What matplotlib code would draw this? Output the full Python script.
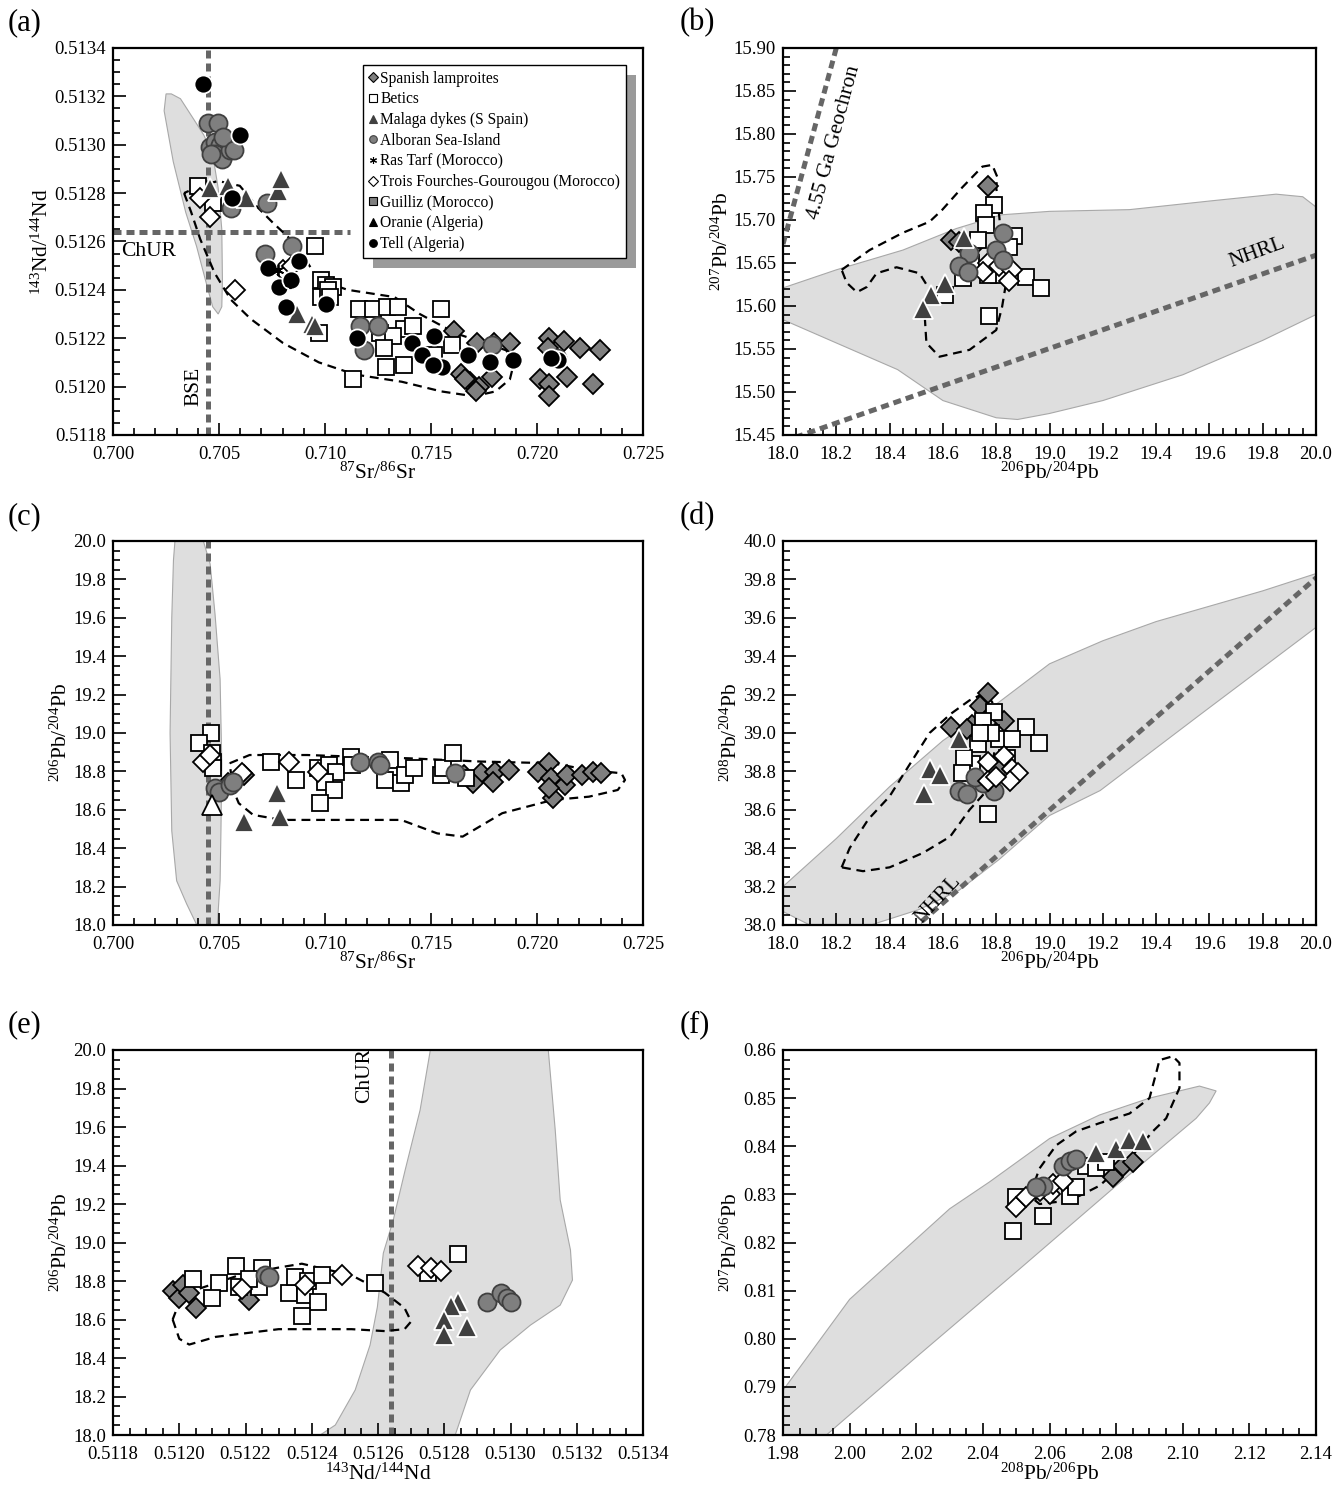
import matplotlib
matplotlib.use("Agg")
import matplotlib.pyplot as plt
from matplotlib.lines import Line2D
from matplotlib.patches import Rectangle
from matplotlib.ticker import MultipleLocator, StrMethodFormatter
import numpy as np

plt.rcParams['font.family'] = ['Liberation Serif', 'DejaVu Serif']
plt.rcParams['mathtext.fontset'] = 'custom'
plt.rcParams['mathtext.rm'] = 'Liberation Serif'
plt.rcParams['mathtext.default'] = 'regular'

# ---------------- panel (a): 87Sr/86Sr vs 143Nd/144Nd ----------------
a_tell_x = [0.70423, 0.70601, 0.70559, 0.70730, 0.70781, 0.70841, 0.70875, 0.70815, 0.71005, 0.71150,
            0.71410, 0.71456, 0.71515, 0.71552, 0.71510, 0.71676, 0.71778, 0.71889, 0.72101, 0.72067]
a_tell_y = [0.51325, 0.51304, 0.51278, 0.51249, 0.51241, 0.51244, 0.51252, 0.51233, 0.51234, 0.51220,
            0.51218, 0.51213, 0.51221, 0.51208, 0.51209, 0.51213, 0.51210, 0.51211, 0.51211, 0.51212]
a_alb_x = [0.70448, 0.70496, 0.70459, 0.70479, 0.70504, 0.70479, 0.70513, 0.70550, 0.70555, 0.70725,
           0.70844, 0.70717, 0.71167, 0.71252, 0.71184, 0.71787, 0.72092, 0.70462, 0.70521, 0.70572]
a_alb_y = [0.51309, 0.51309, 0.51299, 0.51301, 0.51300, 0.51296, 0.51294, 0.51298, 0.51274, 0.51276,
           0.51258, 0.51255, 0.51225, 0.51225, 0.51215, 0.51217, 0.51212, 0.51296, 0.51303, 0.51298]
a_mal_x = [0.70459, 0.70544, 0.70628, 0.70776, 0.70793, 0.70870, 0.70938, 0.70951]
a_mal_y = [0.51282, 0.51283, 0.51278, 0.51281, 0.51286, 0.51230, 0.51226, 0.51225]
a_tro_x = [0.70411, 0.70459, 0.70577, 0.70802, 0.70844]
a_tro_y = [0.51278, 0.51270, 0.51240, 0.51248, 0.51250]
a_ras_x = [0.70776, 0.70835]
a_ras_y = [0.51248, 0.51243]
a_bet_x = [0.70403, 0.70470, 0.70951, 0.70980, 0.71005, 0.71039, 0.70980, 0.70971, 0.71158, 0.71226,
           0.71294, 0.71345, 0.71371, 0.71549, 0.71413, 0.71600, 0.71286, 0.71371, 0.71133, 0.71014,
           0.71022, 0.71260, 0.71320, 0.71277, 0.71515]
a_bet_y = [0.51283, 0.51276, 0.51258, 0.51244, 0.51242, 0.51241, 0.51237, 0.51222, 0.51232, 0.51232,
           0.51233, 0.51233, 0.51224, 0.51232, 0.51225, 0.51217, 0.51208, 0.51209, 0.51203, 0.51240,
           0.51237, 0.51222, 0.51221, 0.51216, 0.51213]
a_lam_x = [0.71608, 0.71642, 0.71685, 0.71719, 0.71727, 0.71787, 0.71795, 0.71872, 0.72058, 0.72126,
           0.72203, 0.72296, 0.72050, 0.72016, 0.72058, 0.72058, 0.72143, 0.72262, 0.71710, 0.71659]
a_lam_y = [0.51223, 0.51205, 0.51202, 0.51218, 0.51200, 0.51204, 0.51218, 0.51218, 0.51220, 0.51219,
           0.51216, 0.51215, 0.51216, 0.51203, 0.51201, 0.51196, 0.51204, 0.51201, 0.51198, 0.51203]
a_field_x = [0.70250, 0.70275, 0.70318, 0.70377, 0.70428, 0.70470, 0.70496, 0.70513, 0.70516, 0.70513,
             0.70496, 0.70470, 0.70436, 0.70394, 0.70343, 0.70284, 0.70241]
a_field_y = [0.51321, 0.51321, 0.51319, 0.51311, 0.51304, 0.51296, 0.51282, 0.51265, 0.51244, 0.51233,
             0.51230, 0.51233, 0.51244, 0.51258, 0.51272, 0.51293, 0.51314]
a_env_x = [0.70335, 0.70369, 0.70411, 0.70479, 0.70555, 0.70649, 0.70802, 0.70971, 0.71141, 0.71362,
           0.71549, 0.71702, 0.71804, 0.71872, 0.71889, 0.71855, 0.71753, 0.71617, 0.71447, 0.71328,
           0.71107, 0.70971, 0.70904, 0.70836, 0.70751, 0.70683, 0.70598, 0.70496, 0.70411, 0.70360]
a_env_y = [0.51280, 0.51272, 0.51261, 0.51247, 0.51236, 0.51228, 0.51218, 0.51210, 0.51205, 0.51202,
           0.51198, 0.51196, 0.51198, 0.51203, 0.51209, 0.51215, 0.51218, 0.51222, 0.51230, 0.51237,
           0.51240, 0.51244, 0.51253, 0.51261, 0.51268, 0.51274, 0.51283, 0.51285, 0.51283, 0.51281]
bse_sr = 0.70448
chur_nd = 0.51264
chur_sr_end = 0.7112

# ---------------- panel (b): 206Pb/204Pb vs 207Pb/204Pb ----------------
b_lam_x = [18.768, 18.631, 18.720, 18.660]
b_lam_y = [15.739, 15.677, 15.671, 15.674]
b_mal_x = [18.680, 18.606, 18.556, 18.525]
b_mal_y = [15.679, 15.626, 15.613, 15.597]
b_bet_x = [18.793, 18.755, 18.761, 18.730, 18.867, 18.849, 18.705, 18.811, 18.911, 18.967,
           18.606, 18.774, 18.674, 18.768]
b_bet_y = [15.717, 15.708, 15.694, 15.677, 15.681, 15.669, 15.650, 15.636, 15.634, 15.621,
           15.613, 15.588, 15.632, 15.636]
b_alb_x = [18.824, 18.799, 18.699, 18.662, 18.693, 18.824]
b_alb_y = [15.685, 15.665, 15.661, 15.646, 15.640, 15.653]
b_tro_x = [18.768, 18.811, 18.861, 18.849, 18.749]
b_tro_y = [15.650, 15.646, 15.642, 15.629, 15.639]
b_field_x = [18.0, 18.2, 18.45, 18.65, 18.82, 19.0, 19.3, 19.6, 19.85, 19.95, 20.0, 20.0, 19.8, 19.5,
             19.2, 19.0, 18.88, 18.8, 18.6, 18.43, 18.2, 18.0]
b_field_y = [15.621, 15.642, 15.665, 15.69, 15.706, 15.71, 15.712, 15.722, 15.73, 15.727, 15.715,
             15.59, 15.56, 15.52, 15.49, 15.475, 15.468, 15.47, 15.49, 15.526, 15.557, 15.584]
b_env_x = [18.22, 18.325, 18.449, 18.55, 18.598, 18.673, 18.748, 18.785, 18.804, 18.80, 18.837,
           18.822, 18.80, 18.70, 18.587, 18.538, 18.531, 18.55, 18.512, 18.426, 18.351, 18.314,
           18.277, 18.239]
b_env_y = [15.642, 15.665, 15.685, 15.698, 15.712, 15.738, 15.762, 15.764, 15.75, 15.738, 15.627,
           15.599, 15.572, 15.549, 15.541, 15.557, 15.592, 15.619, 15.638, 15.645, 15.638, 15.622,
           15.616, 15.627]
geochron_x = [18.0, 18.2]
geochron_y = [15.672, 15.90]

# ---------------- panel (c): 87Sr/86Sr vs 206Pb/204Pb ----------------
c_lam_x = [0.71734, 0.71802, 0.71870, 0.71700, 0.71793, 0.72006, 0.72057, 0.72066, 0.72134, 0.72074,
           0.72142, 0.72211, 0.72262, 0.72304, 0.72057, 0.71657, 0.70618, 0.70542]
c_lam_y = [18.790, 18.799, 18.807, 18.738, 18.747, 18.799, 18.842, 18.764, 18.729, 18.660,
           18.781, 18.781, 18.799, 18.790, 18.712, 18.781, 18.781, 18.738]
c_bet_x = [0.70460, 0.70405, 0.70465, 0.70473, 0.70473, 0.70746, 0.70865, 0.70967, 0.71018, 0.71053,
           0.71001, 0.71044, 0.70976, 0.71121, 0.71129, 0.71308, 0.71282, 0.71359, 0.71376, 0.71419,
           0.71546, 0.71555, 0.71606, 0.71666]
c_bet_y = [19.000, 18.946, 18.894, 18.851, 18.816, 18.851, 18.755, 18.816, 18.833, 18.799,
           18.747, 18.703, 18.634, 18.877, 18.833, 18.859, 18.755, 18.738, 18.781, 18.816,
           18.781, 18.816, 18.894, 18.764]
c_alb_x = [0.70482, 0.70499, 0.70550, 0.70567, 0.71163, 0.71248, 0.71257, 0.71614]
c_alb_y = [18.712, 18.695, 18.729, 18.747, 18.851, 18.851, 18.833, 18.790]
c_tro_x = [0.70422, 0.70610, 0.70831, 0.70967, 0.70456]
c_tro_y = [18.851, 18.790, 18.851, 18.799, 18.885]
c_ora_x = [0.70465]
c_ora_y = [18.625]
c_mal_x = [0.70618, 0.70789, 0.70772]
c_mal_y = [18.538, 18.564, 18.686]
c_field_x = [0.70292, 0.70426, 0.70458, 0.70481, 0.70505, 0.70513, 0.70509, 0.70505, 0.70492, 0.70395,
             0.70347, 0.70300, 0.70277, 0.70269, 0.70277, 0.70285]
c_field_y = [20.0, 20.0, 19.88, 19.62, 19.28, 18.84, 18.49, 18.23, 18.0, 18.0,
             18.11, 18.23, 18.49, 19.0, 19.6, 19.9]
c_env_x = [0.70550, 0.70644, 0.70916, 0.71121, 0.71393, 0.71734, 0.72074, 0.72245, 0.72398, 0.72415,
           0.72381, 0.72245, 0.72074, 0.71836, 0.71649, 0.71529, 0.71359, 0.70797, 0.70661, 0.70593,
           0.70567]
c_env_y = [18.842, 18.885, 18.885, 18.877, 18.868, 18.851, 18.842, 18.807, 18.790, 18.755,
           18.703, 18.668, 18.651, 18.582, 18.460, 18.477, 18.547, 18.547, 18.573, 18.634,
           18.703]

# ---------------- panel (d): 206Pb/204Pb vs 208Pb/204Pb ----------------
d_lam_x = [18.77, 18.74, 18.63, 18.83, 18.71, 18.69]
d_lam_y = [39.21, 39.14, 39.03, 39.06, 39.04, 39.02]
d_bet_x = [18.79, 18.75, 18.91, 18.96, 18.81, 18.73, 18.86, 18.78, 18.71, 18.68, 18.84, 18.77, 18.67, 18.74]
d_bet_y = [39.11, 39.06, 39.03, 38.95, 38.97, 38.94, 38.97, 39.00, 38.84, 38.87, 38.87, 38.58, 38.79, 39.00]
d_mal_x = [18.66, 18.55, 18.59, 18.53]
d_mal_y = [38.97, 38.81, 38.78, 38.68]
d_alb_x = [18.66, 18.69, 18.79, 18.75, 18.72, 18.80]
d_alb_y = [38.70, 38.68, 38.70, 38.74, 38.77, 38.81]
d_tro_x = [18.77, 18.83, 18.86, 18.88, 18.85, 18.77, 18.80]
d_tro_y = [38.85, 38.88, 38.81, 38.79, 38.75, 38.75, 38.77]
d_field_x = [18.0, 18.2, 18.4, 18.6, 18.81, 19.0, 19.2, 19.4, 19.6, 19.8, 20.0, 20.0, 19.56, 19.19,
             19.0, 18.81, 18.66, 18.51, 18.33, 18.1, 18.0]
d_field_y = [38.20, 38.45, 38.72, 38.96, 39.16, 39.36, 39.48, 39.58, 39.66, 39.74, 39.83, 39.55,
             39.09, 38.70, 38.57, 38.34, 38.18, 38.08, 38.0, 38.0, 38.07]
d_env_x = [18.22, 18.25, 18.32, 18.40, 18.477, 18.55, 18.63, 18.70, 18.76, 18.79, 18.80, 18.765,
           18.70, 18.627, 18.525, 18.40, 18.30]
d_env_y = [38.30, 38.40, 38.55, 38.67, 38.84, 39.0, 39.10, 39.17, 39.21, 39.15, 38.95, 38.70,
           38.60, 38.46, 38.375, 38.30, 38.28]

# ---------------- panel (e): 143Nd/144Nd vs 206Pb/204Pb ----------------
e_lam_x = [0.51198, 0.51200, 0.51205, 0.51201, 0.51221, 0.51203]
e_lam_y = [18.75, 18.71, 18.66, 18.78, 18.70, 18.74]
e_bet_x = [0.51204, 0.51212, 0.51210, 0.51217, 0.51218, 0.51225, 0.51224, 0.51221, 0.51233, 0.51235,
           0.51238, 0.51242, 0.51237, 0.51239, 0.51243, 0.51259, 0.51284, 0.51275]
e_bet_y = [18.81, 18.79, 18.71, 18.88, 18.77, 18.87, 18.77, 18.81, 18.74, 18.82,
           18.73, 18.69, 18.62, 18.80, 18.83, 18.79, 18.94, 18.84]
e_alb_x = [0.51226, 0.51227, 0.51293, 0.51297, 0.51299, 0.51300]
e_alb_y = [18.83, 18.82, 18.69, 18.74, 18.71, 18.69]
e_tro_x = [0.51249, 0.51238, 0.51272, 0.51276, 0.51279, 0.51219]
e_tro_y = [18.83, 18.78, 18.88, 18.87, 18.85, 18.76]
e_mal_x = [0.51284, 0.51282, 0.51280, 0.51287, 0.51280]
e_mal_y = [18.69, 18.67, 18.60, 18.56, 18.52]
e_field_x = [0.512758, 0.512727, 0.512682, 0.512646, 0.512616, 0.512598, 0.512576, 0.512531, 0.512471,
             0.512425, 0.512833, 0.512879, 0.512969, 0.513060, 0.513150, 0.513187, 0.513181, 0.513150,
             0.513135, 0.513114]
e_field_y = [20.0, 19.688, 19.377, 19.117, 18.945, 18.665, 18.468, 18.234, 18.052,
             18.0, 18.0, 18.234, 18.442, 18.571, 18.675, 18.805, 18.961, 19.221,
             19.584, 20.0]
e_env_x = [0.51198, 0.51200, 0.51203, 0.51211, 0.51230, 0.51252, 0.51262, 0.51268, 0.51270, 0.51268,
           0.51262, 0.51252, 0.51237, 0.51230, 0.51218, 0.51206, 0.51200]
e_env_y = [18.60, 18.50, 18.47, 18.51, 18.55, 18.55, 18.54, 18.55, 18.59, 18.66,
           18.74, 18.83, 18.89, 18.87, 18.83, 18.76, 18.69]

# ---------------- panel (f): 208Pb/206Pb vs 207Pb/206Pb ----------------
f_bet_x = [2.049, 2.058, 2.050, 2.066, 2.071, 2.074, 2.077, 2.068]
f_bet_y = [0.8224, 0.8255, 0.8295, 0.8297, 0.8358, 0.8354, 0.8368, 0.8316]
f_tro_x = [2.050, 2.053, 2.060, 2.061, 2.064, 2.057]
f_tro_y = [0.8274, 0.8295, 0.8301, 0.8322, 0.8328, 0.8308]
f_alb_x = [2.064, 2.066, 2.068, 2.058, 2.056]
f_alb_y = [0.8360, 0.8370, 0.8374, 0.8318, 0.8316]
f_mal_x = [2.074, 2.080, 2.084, 2.088]
f_mal_y = [0.8385, 0.8395, 0.8412, 0.8410]
f_lam_x = [2.079, 2.082, 2.085, 2.056]
f_lam_y = [0.8337, 0.8358, 0.8368, 0.8312]
f_field_x = [1.98, 1.98, 2.00, 2.03, 2.042, 2.06, 2.075, 2.09, 2.105, 2.110, 2.108, 2.104, 2.08,
             2.051, 2.02, 1.993]
f_field_y = [0.78, 0.7893, 0.8082, 0.8270, 0.8326, 0.8416, 0.8465, 0.8500, 0.8525, 0.8515, 0.8490,
             0.8458, 0.8318, 0.8145, 0.7962, 0.78]
f_env_x = [2.054, 2.057, 2.062, 2.068, 2.075, 2.084, 2.090, 2.092, 2.093, 2.097, 2.099, 2.099, 2.095,
           2.091, 2.084, 2.075, 2.069, 2.063, 2.057]
f_env_y = [0.8297, 0.8354, 0.8402, 0.8431, 0.8448, 0.8468, 0.8500, 0.8552, 0.8579, 0.8587, 0.8573,
           0.8521, 0.8458, 0.8431, 0.8374, 0.8318, 0.8297, 0.8285, 0.8280]

legend_labels = ['Spanish lamproites', 'Betics', 'Malaga dykes (S Spain)', 'Alboran Sea-Island',
                 'Ras Tarf (Morocco)', 'Trois Fourches-Gourougou (Morocco)', 'Guilliz (Morocco)',
                 'Oranie (Algeria)', 'Tell (Algeria)']

GRAY = '#7f7f7f'
DARK = '#404040'
STY = {
    'lam': dict(marker='D', mfc=GRAY, mec='black', ms=10.5),
    'bet': dict(marker='s', mfc='white', mec='black', ms=12),
    'mal': dict(marker='^', mfc=DARK, mec='white', ms=14),
    'alb': dict(marker='o', mfc=GRAY, mec=DARK, ms=13),
    'ras': dict(marker=(6, 2, 0), mfc='black', mec='black', ms=8),
    'tro': dict(marker='D', mfc='white', mec='black', ms=10.5),
    'gui': dict(marker='s', mfc=GRAY, mec='black', ms=12),
    'ora': dict(marker='^', mfc='white', mec='black', ms=14),
    'tell': dict(marker='o', mfc='black', mec='white', ms=13),
}


def pts(ax, x, y, key):
    ax.plot(x, y, ls='none', mew=1.3, zorder=5, **STY[key])


def field(ax, x, y):
    ax.fill(x, y, facecolor='#dedede', edgecolor='#a8a8a8', lw=0.8, zorder=1)


def envelope(ax, x, y):
    ax.plot(list(x) + [x[0]], list(y) + [y[0]], color='black', lw=1.6, dashes=(4, 2.6), zorder=3)


def refline(ax, x, y):
    ax.plot(x, y, color='#666666', lw=3.6, dashes=(1.6, 1.0), zorder=2, solid_capstyle='butt')


def style(ax, xlim, ylim, xmaj, xmin, ymaj, ymin, xfmt, yfmt, xlabel, ylabel):
    ax.set_xlim(*xlim)
    ax.set_ylim(*ylim)
    ax.xaxis.set_major_locator(MultipleLocator(xmaj))
    ax.xaxis.set_minor_locator(MultipleLocator(xmin))
    ax.yaxis.set_major_locator(MultipleLocator(ymaj))
    ax.yaxis.set_minor_locator(MultipleLocator(ymin))
    ax.xaxis.set_major_formatter(StrMethodFormatter(xfmt))
    ax.yaxis.set_major_formatter(StrMethodFormatter(yfmt))
    ax.tick_params(which='both', direction='in', top=False, right=False, labelsize=13.5, width=1.2)
    ax.tick_params(which='major', length=9)
    ax.tick_params(which='minor', length=5)
    ax.tick_params(axis='x', which='major', pad=8)
    ax.tick_params(axis='y', which='major', pad=5)
    for s in ax.spines.values():
        s.set_linewidth(1.6)
    ax.set_xlabel(xlabel, fontsize=15.5, labelpad=0)
    ax.set_ylabel(ylabel, fontsize=15.5, labelpad=1)


fig = plt.figure(figsize=(13.41, 15.03), dpi=100)
L1, W1 = 0.0843, 0.3952
L2, W2 = 0.5839, 0.3975
rows = [(0.7106, 0.2575), (0.3846, 0.2555), (0.0452, 0.2562)]
ax_a = fig.add_axes([L1, rows[0][0], W1, rows[0][1]])
ax_b = fig.add_axes([L2, rows[0][0], W2, rows[0][1]])
ax_c = fig.add_axes([L1, rows[1][0], W1, rows[1][1]])
ax_d = fig.add_axes([L2, rows[1][0], W2, rows[1][1]])
ax_e = fig.add_axes([L1, rows[2][0], W1, rows[2][1]])
ax_f = fig.add_axes([L2, rows[2][0], W2, rows[2][1]])

SR = r'$^{87}$Sr/$^{86}$Sr'
ND = r'$^{143}$Nd/$^{144}$Nd'
P64 = r'$^{206}$Pb/$^{204}$Pb'
P74 = r'$^{207}$Pb/$^{204}$Pb'
P84 = r'$^{208}$Pb/$^{204}$Pb'
P86 = r'$^{208}$Pb/$^{206}$Pb'
P76 = r'$^{207}$Pb/$^{206}$Pb'

# (a)
ax = ax_a
field(ax, a_field_x, a_field_y)
envelope(ax, a_env_x, a_env_y)
refline(ax, [bse_sr, bse_sr], [0.5118, 0.5134])
refline(ax, [0.700, chur_sr_end], [chur_nd, chur_nd])
pts(ax, a_lam_x, a_lam_y, 'lam')
pts(ax, a_bet_x, a_bet_y, 'bet')
pts(ax, a_tro_x, a_tro_y, 'tro')
pts(ax, a_alb_x, a_alb_y, 'alb')
pts(ax, a_mal_x, a_mal_y, 'mal')
pts(ax, a_tell_x, a_tell_y, 'tell')
pts(ax, a_ras_x, a_ras_y, 'ras')
ax.text(0.7004, 0.51256, 'ChUR', fontsize=15.5, va='center', ha='left', zorder=6)
ax.text(0.7038, 0.51200, 'BSE', fontsize=15.5, va='center', ha='center', rotation=90, zorder=6)
style(ax, (0.700, 0.725), (0.5118, 0.5134), 0.005, 0.001, 0.0002, 0.00005, '{x:.3f}', '{x:.4f}', SR, ND)

keys = ['lam', 'bet', 'mal', 'alb', 'ras', 'tro', 'gui', 'ora', 'tell']
handles = []
for k in keys:
    st = dict(STY[k])
    st['ms'] = 5.5 if k != 'ras' else 5
    if k in ('mal', 'ora'):
        st['mfc'] = 'black' if k == 'ora' else DARK
        st['mec'] = st['mfc']
    if k == 'tell':
        st['mec'] = 'black'
    handles.append(Line2D([], [], ls='none', mew=0.8, **st))
leg = ax.legend(handles, legend_labels, loc='upper left', bbox_to_anchor=(0.472, 0.955), fontsize=11.2,
                frameon=True, fancybox=False, edgecolor='black', framealpha=1, handlelength=0.5,
                handletextpad=0.25, labelspacing=0.3, borderpad=0.35, borderaxespad=0)
leg.get_frame().set_linewidth(1.0)
leg.set_zorder(10)

# (b)
ax = ax_b
field(ax, b_field_x, b_field_y)
envelope(ax, b_env_x, b_env_y)
nhrl_b_x = np.array([18.0, 20.0])
refline(ax, nhrl_b_x, 0.1084 * nhrl_b_x + 13.491)
refline(ax, geochron_x, geochron_y)
pts(ax, b_lam_x, b_lam_y, 'lam')
pts(ax, b_bet_x, b_bet_y, 'bet')
pts(ax, b_tro_x, b_tro_y, 'tro')
pts(ax, b_alb_x, b_alb_y, 'alb')
pts(ax, b_mal_x, b_mal_y, 'mal')
ax.text(18.19, 15.79, '4.55 Ga Geochron', fontsize=15.5, rotation=75, ha='center', va='center')
ax.text(19.78, 15.662, 'NHRL', fontsize=15.5, rotation=20, ha='center', va='center')
style(ax, (18.0, 20.0), (15.45, 15.90), 0.2, 0.05, 0.05, 0.01, '{x:.1f}', '{x:.2f}', P64, P74)

# (c)
ax = ax_c
field(ax, c_field_x, c_field_y)
envelope(ax, c_env_x, c_env_y)
refline(ax, [bse_sr, bse_sr], [18.0, 20.0])
pts(ax, c_lam_x, c_lam_y, 'lam')
pts(ax, c_bet_x, c_bet_y, 'bet')
pts(ax, c_tro_x, c_tro_y, 'tro')
pts(ax, c_alb_x, c_alb_y, 'alb')
pts(ax, c_mal_x, c_mal_y, 'mal')
pts(ax, c_ora_x, c_ora_y, 'ora')
style(ax, (0.700, 0.725), (18.0, 20.0), 0.005, 0.001, 0.2, 0.05, '{x:.3f}', '{x:.1f}', SR, P64)

# (d)
ax = ax_d
field(ax, d_field_x, d_field_y)
envelope(ax, d_env_x, d_env_y)
nhrl_d_x = np.array([18.3, 20.1])
refline(ax, nhrl_d_x, 1.209 * nhrl_d_x + 15.627)
pts(ax, d_lam_x, d_lam_y, 'lam')
pts(ax, d_bet_x, d_bet_y, 'bet')
pts(ax, d_alb_x, d_alb_y, 'alb')
pts(ax, d_tro_x, d_tro_y, 'tro')
pts(ax, d_mal_x, d_mal_y, 'mal')
ax.text(18.58, 38.13, 'NHRL', fontsize=15.5, rotation=47, ha='center', va='center')
style(ax, (18.0, 20.0), (38.0, 40.0), 0.2, 0.05, 0.2, 0.05, '{x:.1f}', '{x:.1f}', P64, P84)

# (e)
ax = ax_e
field(ax, e_field_x, e_field_y)
envelope(ax, e_env_x, e_env_y)
refline(ax, [chur_nd, chur_nd], [18.0, 20.0])
pts(ax, e_lam_x, e_lam_y, 'lam')
pts(ax, e_bet_x, e_bet_y, 'bet')
pts(ax, e_tro_x, e_tro_y, 'tro')
pts(ax, e_alb_x, e_alb_y, 'alb')
pts(ax, e_mal_x, e_mal_y, 'mal')
ax.text(0.51256, 19.87, 'ChUR', fontsize=15.5, rotation=90, ha='center', va='center')
style(ax, (0.5118, 0.5134), (18.0, 20.0), 0.0002, 0.00005, 0.2, 0.05, '{x:.4f}', '{x:.1f}', ND, P64)

# (f)
ax = ax_f
field(ax, f_field_x, f_field_y)
envelope(ax, f_env_x, f_env_y)
pts(ax, f_lam_x, f_lam_y, 'lam')
pts(ax, f_bet_x, f_bet_y, 'bet')
pts(ax, f_tro_x, f_tro_y, 'tro')
pts(ax, f_alb_x, f_alb_y, 'alb')
pts(ax, f_mal_x, f_mal_y, 'mal')
style(ax, (1.98, 2.14), (0.78, 0.86), 0.02, 0.005, 0.01, 0.002, '{x:.2f}', '{x:.2f}', P86, P76)

for lab, (x, y) in zip('abcdef', [(0.006, 0.985), (0.507, 0.985), (0.006, 0.656),
                                  (0.507, 0.656), (0.006, 0.318), (0.507, 0.318)]):
    fig.text(x, y, '(%s)' % lab, fontsize=22, va='center', ha='left')

# drop shadow behind the legend box
fig.canvas.draw()
bb = leg.get_window_extent().transformed(ax_a.transAxes.inverted())
ax_a.add_patch(Rectangle((bb.x0 + 0.019, bb.y0 - 0.026), bb.width, bb.height, transform=ax_a.transAxes,
                         facecolor='#9a9a9a', edgecolor='none', zorder=9))

fig.savefig('out.png', dpi=100)
